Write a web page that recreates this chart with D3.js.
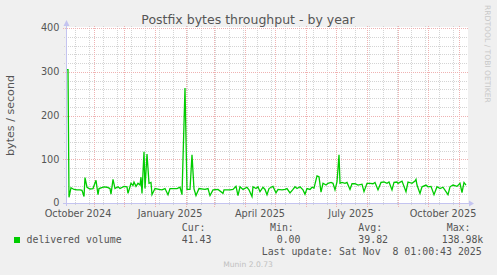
<!DOCTYPE html>
<html>
<head>
<meta charset="utf-8">
<title>Postfix bytes throughput - by year</title>
<script src="https://cdn.jsdelivr.net/npm/d3@7"></script>
<style>
  html, body { margin: 0; padding: 0; background: #f0f0f0; }
  svg { display: block; }
  text { font-family: "DejaVu Sans", sans-serif; }
  .mono { font-family: "DejaVu Sans Mono", monospace; white-space: pre; }
</style>
</head>
<body>
<script>
// Samples (bytes / second)
var dates = [
  "2024-10-05", "2024-10-06", "2024-10-07", "2024-10-09", "2024-10-12", "2024-10-15", "2024-10-18", "2024-10-20",
  "2024-10-22", "2024-10-23", "2024-10-25", "2024-10-28", "2024-10-31", "2024-11-03", "2024-11-05",
  "2024-11-06", "2024-11-11", "2024-11-14", "2024-11-17", "2024-11-18", "2024-11-20", "2024-11-22",
  "2024-11-25", "2024-11-27", "2024-12-01", "2024-12-04", "2024-12-05", "2024-12-08", "2024-12-10",
  "2024-12-11", "2024-12-13", "2024-12-15", "2024-12-17", "2024-12-18", "2024-12-19", "2024-12-21",
  "2024-12-22", "2024-12-24", "2024-12-26", "2024-12-28", "2024-12-29", "2025-01-01", "2025-01-05",
  "2025-01-08", "2025-01-11", "2025-01-14", "2025-01-16", "2025-01-19", "2025-01-23", "2025-01-26",
  "2025-01-28", "2025-01-31", "2025-02-02", "2025-02-05", "2025-02-07", "2025-02-09", "2025-02-11",
  "2025-02-14", "2025-02-20", "2025-02-23", "2025-02-25", "2025-02-28", "2025-03-05", "2025-03-10",
  "2025-03-11", "2025-03-17", "2025-03-20", "2025-03-23", "2025-03-25", "2025-03-27", "2025-03-30",
  "2025-04-03", "2025-04-05", "2025-04-08", "2025-04-09", "2025-04-12", "2025-04-14", "2025-04-16",
  "2025-04-19", "2025-04-21", "2025-04-23", "2025-04-25", "2025-04-28", "2025-04-29", "2025-05-02",
  "2025-05-04", "2025-05-08", "2025-05-11", "2025-05-13", "2025-05-16", "2025-05-19", "2025-05-21",
  "2025-05-23", "2025-05-26", "2025-05-29", "2025-05-31", "2025-06-02", "2025-06-05", "2025-06-07",
  "2025-06-09", "2025-06-12", "2025-06-14", "2025-06-16", "2025-06-18", "2025-06-21", "2025-06-23",
  "2025-06-26", "2025-06-28", "2025-06-30", "2025-07-02", "2025-07-04", "2025-07-05", "2025-07-07",
  "2025-07-10", "2025-07-12", "2025-07-15", "2025-07-17", "2025-07-20", "2025-07-23", "2025-07-27",
  "2025-07-29", "2025-08-01", "2025-08-04", "2025-08-07", "2025-08-09", "2025-08-12", "2025-08-15",
  "2025-08-18", "2025-08-21", "2025-08-23", "2025-08-26", "2025-08-28", "2025-08-31", "2025-09-01",
  "2025-09-05", "2025-09-09", "2025-09-11", "2025-09-15", "2025-09-18", "2025-09-19", "2025-09-20",
  "2025-09-23", "2025-09-25", "2025-09-29", "2025-10-01", "2025-10-04", "2025-10-07", "2025-10-10",
  "2025-10-13", "2025-10-16", "2025-10-21", "2025-10-23", "2025-10-26", "2025-10-30", "2025-11-02",
  "2025-11-04", "2025-11-06", "2025-11-08"
];
var values = [
  305, 305, 13, 35, 31, 30, 30, 29,
  15, 58, 36, 32, 33, 52, 19,
  33, 37, 36, 33, 20, 54, 33,
  37, 33, 38, 37, 22, 45, 40,
  48, 38, 45, 41, 59, 22, 117,
  33, 112, 45, 47, 19, 33, 31,
  30, 33, 19, 33, 33, 33, 36,
  19, 263, 31, 31, 110, 32, 17,
  33, 31, 33, 17, 30, 31, 22,
  30, 30, 31, 38, 17, 37, 31,
  36, 30, 15, 37, 33, 37, 26,
  36, 31, 19, 33, 37, 38, 23,
  31, 30, 31, 33, 23, 31, 37,
  33, 37, 30, 20, 33, 31, 36,
  34, 62, 60, 25, 45, 41, 45,
  47, 45, 30, 48, 110, 45, 47,
  45, 47, 31, 44, 44, 41, 43,
  26, 45, 45, 44, 47, 30, 47,
  48, 45, 48, 30, 47, 48, 45,
  50, 26, 48, 45, 50, 54, 41,
  22, 37, 41, 37, 38, 19, 37,
  33, 36, 19, 37, 41, 38, 45,
  24, 47, 41
];

var yTicks = [0, 100, 200, 300, 400];
var monthLabels = ["October 2024", "January 2025", "April 2025", "July 2025", "October 2025"];
var labelDates = ["2024-10-16", "2025-01-16", "2025-04-16", "2025-07-16", "2025-10-16"];
var legendHeaders = ["Cur:", "Min:", "Avg:", "Max:"];
var legendValues = ["41.43", "0.00", "39.82", "138.98k"];

var w = 497;
var h = 275;
var parse = d3.utcParse("%Y-%m-%d");
var start = parse("2024-10-04");
var end = parse("2025-11-08");

var data = dates.map(function(d, i) { return { date: parse(d), value: values[i] }; });

var svg = d3.select("body").append("svg").attr("width", w).attr("height", h);
svg.append("rect").attr("width", w).attr("height", h).attr("fill", "#f0f0f0");

var xScale = d3.scaleUtc().domain([start, end]).range([66, 466]);
var yScale = d3.scaleLinear().domain([0, 400]).range([203, 28]);

// Plot canvas
svg.append("rect").attr("x", 66).attr("y", 27).attr("width", 402).attr("height", 177)
   .attr("fill", "#ffffff");

// Minor grid: every 20 units and every other week
var minorY = d3.range(20, 400, 20).filter(function(v) { return v % 100 != 0; });
var minorX = d3.utcDay.range(parse("2024-10-13"), end, 14);
var majorX = d3.utcMonth.range(start, end);

function px(v) { return Math.round(v) + 0.5; }

var grid = svg.append("g").attr("stroke-dasharray", "1,1").attr("stroke-width", 1);
grid.selectAll(".gy").data(minorY).enter().append("line")
    .attr("x1", 64).attr("x2", 468)
    .attr("y1", function(d) { return px(yScale(d)); })
    .attr("y2", function(d) { return px(yScale(d)); })
    .attr("stroke", "#d4d4d4");
grid.selectAll(".gx").data(minorX).enter().append("line")
    .attr("y1", 26).attr("y2", 206)
    .attr("x1", function(d) { return px(xScale(d)); })
    .attr("x2", function(d) { return px(xScale(d)); })
    .attr("stroke", "#d4d4d4");
grid.selectAll(".my").data(yTicks.slice(1)).enter().append("line")
    .attr("x1", 63).attr("x2", 468)
    .attr("y1", function(d) { return px(yScale(d)); })
    .attr("y2", function(d) { return px(yScale(d)); })
    .attr("stroke", "#efb2b2");
grid.selectAll(".mx").data(majorX).enter().append("line")
    .attr("y1", 26).attr("y2", 207)
    .attr("x1", function(d) { return px(xScale(d)); })
    .attr("x2", function(d) { return px(xScale(d)); })
    .attr("stroke", "#efb2b2");

// Data line
var line = d3.line()
  .x(function(d) { return xScale(d.date); })
  .y(function(d) { return yScale(d.value); });
svg.append("path").datum(data).attr("d", line)
   .attr("fill", "none").attr("stroke", "#00cc00").attr("stroke-width", 1.3);

// Axes with arrows
var axisColor = "#c4c4f0";
svg.append("line").attr("x1", 63).attr("x2", 470).attr("y1", 203.5).attr("y2", 203.5)
   .attr("stroke", axisColor);
svg.append("line").attr("x1", 66.5).attr("x2", 66.5).attr("y1", 206).attr("y2", 24)
   .attr("stroke", axisColor);
svg.append("path").attr("d", "M469,200.5L474,203.5L469,206.5Z").attr("fill", axisColor);
svg.append("path").attr("d", "M63.5,26L66.5,20L69.5,26Z").attr("fill", axisColor);

// Tick labels
svg.selectAll(".ylab").data(yTicks).enter().append("text")
   .attr("x", 59.5).attr("y", function(d) { return yScale(d) + 3.3; })
   .attr("text-anchor", "end").attr("font-size", "9.72px").attr("fill", "#555")
   .text(function(d) { return d; });
svg.selectAll(".xlab").data(labelDates).enter().append("text")
   .attr("x", function(d) { return xScale(parse(d)); }).attr("y", 216.5)
   .attr("text-anchor", "middle").attr("font-size", "9.72px").attr("fill", "#555")
   .text(function(d, i) { return monthLabels[i]; });

// Titles
svg.append("text").attr("x", 248).attr("y", 24).attr("text-anchor", "middle")
   .attr("font-size", "12.5px").attr("fill", "#555")
   .text("Postfix bytes throughput - by year");
svg.append("text").attr("transform", "translate(13.5,115.5) rotate(-90)")
   .attr("text-anchor", "middle").attr("font-size", "11.1px").attr("fill", "#555")
   .text("bytes / second");
svg.append("text").attr("transform", "translate(485,5) rotate(90)")
   .attr("font-size", "7.6px").attr("fill", "#c8c8c8")
   .text("RRDTOOL / TOBI OETIKER");

// Legend
var headerX = [181.7, 270, 358.3, 446.7];
var valueX = [181.7, 276.7, 358.3, 441.7];
svg.append("rect").attr("x", 14).attr("y", 237).attr("width", 6).attr("height", 6)
   .attr("fill", "#00cc00");
svg.append("text").attr("class", "mono").attr("x", 26.5).attr("y", 243)
   .attr("font-size", "9.9px").attr("fill", "#555").text("delivered volume");
svg.selectAll(".lh").data(legendHeaders).enter().append("text").attr("class", "mono")
   .attr("x", function(d, i) { return headerX[i]; }).attr("y", 230.5)
   .attr("font-size", "9.9px").attr("fill", "#555").text(function(d) { return d; });
svg.selectAll(".lv").data(legendValues).enter().append("text").attr("class", "mono")
   .attr("x", function(d, i) { return valueX[i]; }).attr("y", 243)
   .attr("font-size", "9.9px").attr("fill", "#555").text(function(d) { return d; });
svg.append("text").attr("class", "mono").attr("x", 261.7).attr("y", 255)
   .attr("font-size", "9.9px").attr("fill", "#555")
   .text("Last update: Sat Nov  8 01:00:43 2025");
svg.append("text").attr("x", 248).attr("y", 266.5).attr("text-anchor", "middle")
   .attr("font-size", "7.6px").attr("fill", "#c0c0c0").text("Munin 2.0.73");
</script>
</body>
</html>
